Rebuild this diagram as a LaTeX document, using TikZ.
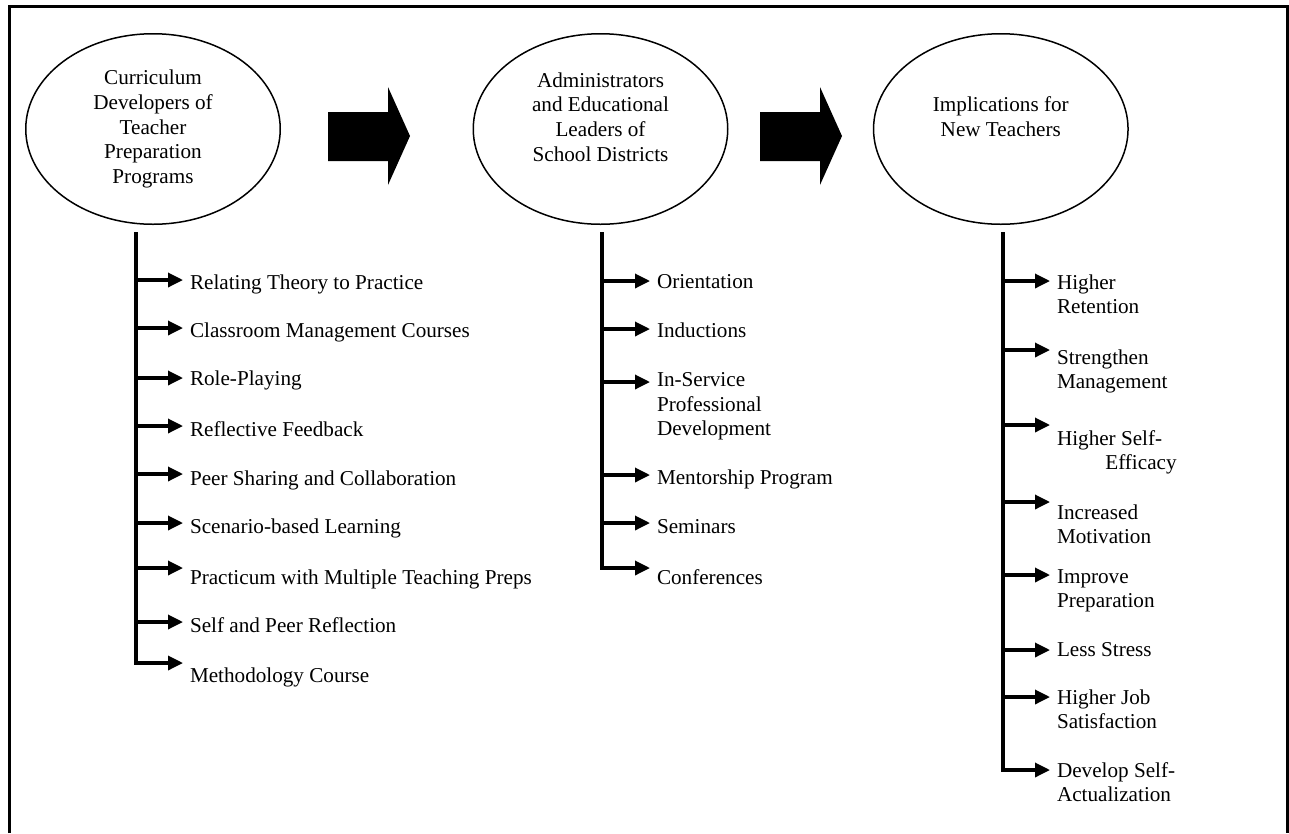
\documentclass[tikz,border=0pt]{standalone}
\usepackage{fontspec}
\setmainfont{Liberation Serif}
\usetikzlibrary{shapes,arrows.meta,positioning,calc}

\begin{document}
\begin{tikzpicture}[x=0.6pt, y=-0.6pt,
	every node/.style={font=\fontsize{12.7}{14.8}\selectfont},
	oval/.style={ellipse, draw, line width=0.9pt, minimum width=152.7pt, minimum height=114.3pt, inner sep=0pt, align=center},
	item/.style={anchor=north west, inner xsep=4pt, inner ysep=0pt, align=left},
	branch/.style={line width=2pt, -{Triangle[length=9pt,width=8.4pt]}},
	blockarrow/.style={fill=black}]
	\useasboundingbox (0,0) rectangle (1289,833);
	\draw[line width=2pt] (9.5,833) -- (9.5,6.7) -- (1287.3,6.7) -- (1287.3,833);

	\node[oval] (cur) at (153,129) {Curriculum\\Developers of\\Teacher\\Preparation\\Programs};
	\node[oval] (adm) at (600.5,129) {Administrators\\and Educational\\Leaders of\\School Districts\\ \mbox{}};
	\node[oval] (imp) at (1000.8,129) {Implications for\\New Teachers\\ \mbox{}};

	\foreach \s in {0,432}
		\fill[blockarrow, shift={(\s,0)}] (328,112) -- (388,112) -- (388,87) -- (410,136) -- (388,185) -- (388,161) -- (328,161) -- cycle;

	\coordinate (t1) at (136,232);
	\coordinate (t2) at (602,232);
	\coordinate (t3) at (1003,232);

	\foreach \n/\y/\d/\txt in {1/274/6/Relating Theory to Practice, 2/322/6/Classroom Management Courses,
			3/370/8/Role-Playing, 4/421/5/Reflective Feedback, 5/470/4/Peer Sharing and Collaboration,
			6/518/5/Scenario-based Learning, 7/569/-1/Practicum with Multiple Teaching Preps,
			8/617/5/Self and Peer Reflection, 9/667/-4/Methodology Course} {
		\node[item] (prep\n) at (183,\y) {\txt};
		\draw[branch] (t1) |- ($(prep\n.north west)+(0,\d)$);
	}

	\foreach \n/\y/\d/\txt in {1/274/7/Orientation, 2/322/7/Inductions,
			3/372/10/{In-Service\\Professional\\Development}, 4/469/6/Mentorship Program,
			5/519/4/Seminars, 6/569/-1/Conferences} {
		\node[item] (dist\n) at (650,\y) {\txt};
		\draw[branch] (t2) |- ($(dist\n.north west)+(0,\d)$);
	}

	\foreach \n/\y/\d/\txt in {1/274/7/{Higher\\Retention}, 2/349/1/{Strengthen\\Management},
			3/430/-5/{Higher Self-\\\hspace*{29pt}Efficacy}, 4/504/-2/{Increased\\Motivation},
			5/569/6/{Improve\\Preparation}, 6/642/8/Less Stress,
			7/689/8/{Higher Job\\Satisfaction}, 8/762/8/{Develop Self-\\Actualization}} {
		\node[item] (teach\n) at (1050,\y) {\txt};
		\draw[branch] (t3) |- ($(teach\n.north west)+(0,\d)$);
	}
\end{tikzpicture}
\end{document}
